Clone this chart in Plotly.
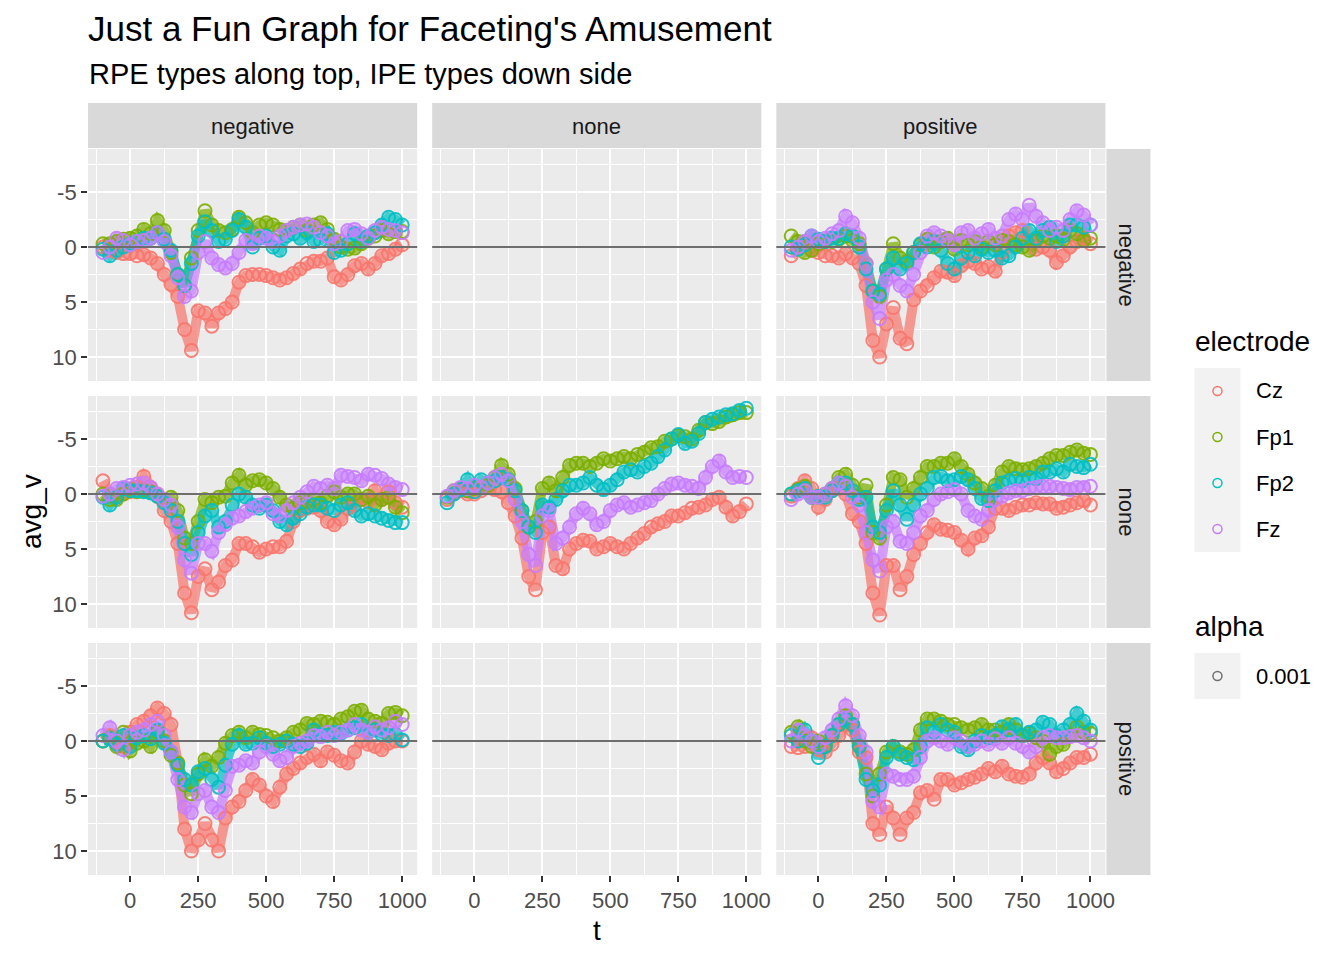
import plotly.graph_objects as go

# ---------------- data ----------------
t = [-100, -75, -50, -25, 0, 25, 50, 75, 100, 125, 150, 175, 200, 225, 250, 275,
     300, 325, 350, 375, 400, 425, 450, 475, 500, 525, 550, 575, 600, 625, 650,
     675, 700, 725, 750, 775, 800, 825, 850, 875, 900, 925, 950, 975, 1000]

rpe_levels = ["negative", "none", "positive"]   # columns
ipe_levels = ["negative", "none", "positive"]   # rows
electrodes = ["Cz", "Fp1", "Fp2", "Fz"]
electrode_colors = ["#F8766D", "#7CAE00", "#00BFC4", "#C77CFF"]
alpha_label = "0.001"
hline_value = 0
x_ticks = [0, 250, 500, 750, 1000]
y_ticks = [-5, 0, 5, 10]

# IPE negative / RPE negative
Cz_ineg_rneg = [0.0,0.3,0.5,0.6,0.6, 0.8,0.7,1.0,1.5,2.5, 3.4,4.5,7.5,9.4,5.8, 6.0,7.2,6.0,5.6,5.0, 3.2,2.6,2.5,2.5,2.6, 2.8,3.0,2.8,2.4,2.0, 1.5,1.3,1.3,1.0,2.7, 3.0,2.5,1.7,1.5,2.0, 1.5,0.8,0.6,0.2,-0.2]
Fp1_ineg_rneg = [-0.3,-0.3,-0.5,-0.7,-0.8, -1.0,-1.6,-1.2,-2.4,-1.5, 0.5,2.5,3.5,1.0,-1.5, -3.3,-2.0,-1.5,-1.3,-1.6, -2.7,-2.2,-1.3,-2.0,-2.2, -2.0,-1.6,-1.5,-1.8,-2.0, -1.5,-2.0,-2.2,-1.6,-0.7, 0.0,0.2,0.1,-0.3,-0.8, -1.0,-1.5,-1.2,-1.4,-1.4]
Fp2_ineg_rneg = [0.2,0.8,0.3,0.0,-0.3, -0.5,-0.8,-0.8,-1.3,-0.7, 0.3,2.5,3.5,1.5,-1.0, -2.3,-1.5,-0.5,-0.7,-1.5, -2.5,-1.8,0.0,-0.8,-1.0, 0.0,0.3,-1.0,-1.2,-0.8, -1.3,-0.5,-0.6,-1.2,0.5, 0.3,-0.3,-1.2,-0.5,-1.0, -1.3,-2.0,-2.7,-2.5,-2.0]
Fz_ineg_rneg = [0.5,0.0,-0.8,-0.6,-0.2, -0.5,-0.6,-0.8,-1.3,-0.5, 0.8,2.8,4.5,4.0,0.5, -0.5,1.0,1.6,1.9,1.5, 0.5,-0.6,-0.3,-1.0,-0.8, -0.5,-1.0,-1.5,-1.8,-2.0, -2.1,-1.8,-1.3,-1.0,-0.3, -0.5,-1.5,-1.6,-1.2,-0.8, -1.5,-1.8,-1.6,-1.5,-1.3]

# IPE negative / RPE positive
Cz_ineg_rpos = [0.8,0.0,-0.5,0.3,0.5, 0.8,0.8,1.0,0.6,1.0, 1.5,3.5,8.5,10.0,7.0, 5.5,8.3,8.8,4.8,4.0, 3.5,2.8,2.2,2.3,2.6, 1.7,1.3,1.5,2.0,1.8, 2.2,0.5,-1.0,-1.3,-1.5, -0.5,0.2,0.0,0.3,1.4, 0.8,0.0,-0.5,-0.8,-0.3]
Fp1_ineg_rpos = [-1.0,-0.5,0.5,0.3,-0.3, -0.5,-0.5,-0.7,-1.0,-0.6, -0.3,1.5,4.0,4.5,2.0, -0.3,1.0,1.3,0.5,-0.2, -0.7,0.0,-0.5,-0.8,0.2, -0.6,-0.2,-0.5,0.0,-0.5, -0.2,-0.6,-0.5,-0.2,0.0, 0.3,-0.6,-1.0,-0.8,-1.0, -0.7,-1.5,-1.2,-0.6,-0.8]
Fp2_ineg_rpos = [0.0,0.2,-0.2,-1.0,-0.7, -0.5,-0.8,-0.8,-1.2,-1.0, 0.0,2.0,4.0,4.3,2.0, 1.0,2.0,1.5,0.5,-0.3, 0.0,-0.5,0.3,1.5,2.0, 1.0,0.5,0.8,0.2,0.5, 0.3,1.0,0.8,0.0,-0.8, -1.5,-0.8,-1.5,-1.8,-0.5, -1.0,-2.0,-2.0,-1.8,-2.0]
Fz_ineg_rpos = [0.3,0.0,-0.5,-1.0,-0.5, -0.8,-1.2,-1.5,-2.8,-2.2, -0.8,1.5,5.0,6.5,3.0, 2.5,3.5,4.0,2.5,0.5, -1.0,-1.3,-1.0,-0.6,-0.2, -1.3,-1.5,-0.8,-1.2,-1.6, -0.8,-1.0,-2.5,-3.0,-2.5, -3.8,-2.8,-2.2,-1.5,-1.8, -1.5,-2.5,-3.3,-2.9,-2.0]

# IPE none / RPE negative
Cz_inone_rneg = [-1.2,0.0,0.3,0.0,-0.2, -0.6,-1.6,-0.6,0.0,1.5, 2.5,4.5,9.0,10.8,7.5, 6.8,8.7,8.0,6.5,6.0, 4.5,4.5,4.8,5.3,5.0, 4.8,4.8,4.3,2.5,1.5, 1.3,1.2,1.5,2.5,2.8, 2.3,1.3,1.0,0.5,0.7, -0.3,0.5,-0.2,0.8,1.2]
Fp1_inone_rneg = [0.0,0.5,0.5,0.0,-0.4, -0.2,-0.3,-0.2,0.2,0.5, 0.3,1.5,4.0,4.5,2.5, 0.5,0.8,0.3,0.2,-1.0, -1.7,-0.8,-1.2,-1.3,-1.0, -0.5,0.3,1.0,1.3,0.8, 0.7,0.5,0.8,0.2,-0.2, 0.3,0.0,0.0,0.5,0.2, 1.0,0.5,0.3,1.2,1.7]
Fp2_inone_rneg = [0.3,1.0,0.3,-0.5,-0.3, -0.3,-0.2,-0.1,0.2,0.8, 1.5,2.5,4.5,5.5,3.5, 2.0,1.5,3.0,2.5,1.0, 0.0,0.3,1.0,1.3,1.0, 1.5,2.5,2.8,2.2,1.8, 1.2,1.0,1.0,1.3,1.5, 1.0,0.8,1.5,2.0,1.8, 2.0,2.2,2.4,2.6,2.6]
Fz_inone_rneg = [0.2,0.0,-0.5,-0.6,-0.8, -0.9,-1.0,-0.6,0.0,0.5, 1.0,3.0,6.0,7.2,4.5, 4.5,5.2,3.5,2.8,2.2, 2.0,1.6,1.3,1.0,0.8, 1.8,2.0,1.5,0.8,0.3, -0.2,-0.7,-0.5,-0.8,-0.5, -1.7,-1.6,-1.5,-1.2,-1.8, -1.7,-1.4,-0.9,-0.6,-0.4]

# IPE none / RPE none
Cz_inone_rnone = [0.5,0.0,-0.3,0.0,0.0, -0.3,-0.6,-0.4,-0.2,0.8, 2.0,4.0,7.5,8.7,3.5, 3.0,6.5,6.8,5.0,4.5, 4.2,4.3,5.0,4.8,4.5, 4.8,5.0,4.5,4.0,3.6, 3.0,2.7,2.5,2.0,2.0, 1.7,1.3,1.2,1.0,0.5, 0.3,1.2,2.0,1.6,0.9]
Fp1_inone_rnone = [0.3,-0.3,-0.5,-0.3,-0.5, -0.6,-0.8,-1.5,-2.6,-1.8, -0.5,1.5,3.0,2.5,-0.5, -1.0,-0.3,-1.5,-2.6,-2.8, -2.8,-2.5,-2.8,-3.2,-3.0, -3.2,-3.4,-3.2,-3.6,-3.8, -4.2,-4.3,-4.8,-5.0,-5.3, -5.2,-5.0,-5.8,-6.5,-6.4, -6.6,-7.0,-7.2,-7.4,-7.4]
Fp2_inone_rnone = [0.8,0.0,-0.4,-1.3,-0.2, -1.3,-1.0,-1.2,-1.5,-1.3, -0.3,1.5,3.0,3.5,1.0, 1.2,0.5,-0.3,-0.8,-0.8, -1.0,-1.5,-0.8,-0.4,-0.8, -1.3,-2.0,-2.2,-2.0,-2.5, -2.8,-3.4,-4.0,-5.0,-5.4, -4.6,-4.8,-5.5,-6.5,-6.8, -7.0,-7.2,-7.3,-7.6,-7.8]
Fz_inone_rnone = [0.2,-0.3,-0.6,-0.5,-0.8, -0.6,-1.0,-1.5,-1.8,-1.2, 0.5,2.5,5.5,6.5,2.0, 1.5,4.5,4.0,3.0,1.8, 1.3,1.8,2.8,2.5,1.5, 1.0,0.8,1.2,1.0,0.8, 0.6,0.0,-0.5,-0.9,-1.0, -0.8,-0.7,-0.5,-1.5,-2.5, -3.0,-2.0,-1.5,-1.6,-1.5]

# IPE none / RPE positive
Cz_inone_rpos = [0.2,-0.5,-1.2,-0.5,1.2, 0.5,-0.3,-0.5,0.0,1.8, 2.5,4.5,9.0,11.0,6.5, 6.5,8.7,7.5,5.5,4.5, 3.5,2.8,3.2,3.3,3.5, 4.2,5.0,4.0,3.8,3.0, 1.3,1.3,1.5,1.2,1.0, 1.0,0.8,0.9,0.9,1.3, 1.2,1.0,0.8,0.6,1.0]
Fp1_inone_rpos = [0.0,-0.4,-0.7,0.3,0.3, 0.0,-0.5,-1.5,-1.8,-0.8, 0.3,-0.8,3.5,4.0,1.0, -1.5,-1.3,0.3,-0.5,-1.5, -2.5,-2.5,-2.8,-2.8,-3.2, -2.5,-1.8,-1.0,-0.5,0.2, -0.8,-2.0,-2.5,-2.3,-2.2, -2.3,-2.5,-2.8,-3.2,-3.5, -3.5,-3.8,-4.0,-3.7,-3.6]
Fp2_inone_rpos = [0.0,-0.3,-0.5,0.3,0.2, 0.3,-0.3,-1.0,-1.0,-0.3, 0.5,0.3,3.0,3.5,1.5, -0.3,1.0,2.3,1.0,0.0, -0.5,-1.5,-1.6,-1.2,-1.3, -1.6,-1.3,-0.5,0.4,0.6, -0.3,-1.0,-1.2,-1.4,-1.2, -1.5,-1.4,-2.0,-2.0,-2.3, -2.0,-2.7,-2.5,-2.4,-2.7]
Fz_inone_rpos = [0.5,0.0,-0.3,0.3,0.3, 0.0,-0.5,-1.0,-0.7,0.3, 1.0,3.5,6.0,7.0,3.0, 2.5,4.3,4.5,3.5,2.0, 1.5,0.5,0.0,-0.2,-0.4, 0.0,1.5,2.0,2.3,1.5, 0.5,0.2,-0.1,-0.3,-0.3, -0.5,-0.6,-0.7,-0.7,-0.6, -0.5,-0.4,-0.6,-0.6,-0.7]

# IPE positive / RPE negative
Cz_ipos_rneg = [0.0,-0.5,0.2,0.5,-0.8, -1.5,-1.8,-2.3,-3.0,-2.5, -1.5,2.0,8.0,10.0,9.0, 7.5,9.0,10.0,7.0,6.0, 5.5,4.5,3.5,4.0,5.0, 5.5,4.2,3.0,2.5,2.0, 1.5,1.2,1.8,1.0,1.3, 1.8,2.0,1.0,0.0,0.3, 0.5,0.8,0.2,0.0,0.0]
Fp1_ipos_rneg = [0.0,-0.3,0.5,-0.8,0.9, 0.2,0.0,0.5,-0.8,0.0, 1.3,2.0,4.0,4.8,3.0, 1.7,2.3,1.5,0.2,-0.5, -0.8,-0.3,-0.8,-0.6,-0.5, -0.3,0.0,-0.3,-0.8,-1.0, -1.6,-1.5,-1.8,-1.7,-1.5, -2.0,-2.2,-2.7,-2.8,-2.0, -1.8,-1.6,-2.5,-2.6,-2.3]
Fp2_ipos_rneg = [0.0,-0.2,0.3,-0.5,0.5, -0.3,-0.5,-0.2,-1.0,0.2, 1.0,2.2,3.5,4.0,2.8, 2.5,3.5,4.2,2.2,0.3, -0.5,0.3,0.2,-0.3,0.2, 0.5,0.3,0.0,0.3,0.5, 0.2,-1.0,-0.6,-0.5,-0.8, -0.7,-1.0,-1.2,-1.5,-0.8, -1.0,-0.6,-0.5,-0.6,-0.1]
Fz_ipos_rneg = [-0.5,-1.2,0.0,0.8,-0.5, -0.8,-1.0,-1.5,-1.8,-0.5, 1.0,3.5,6.0,6.5,4.8, 4.5,6.0,6.5,4.5,2.3, 2.2,1.8,2.0,1.0,0.5, 1.2,1.8,1.5,0.5,0.2, 0.0,-0.5,-0.4,-0.8,-0.5, -0.8,-1.0,-1.5,-1.0,-0.8, -1.3,-1.0,-1.2,-1.8,-1.5]

# IPE positive / RPE positive
Cz_ipos_rpos = [0.5,0.6,0.5,-0.3,0.8, 1.0,0.3,-0.5,-1.5,-1.0, 1.0,1.5,7.5,8.5,6.0, 7.0,8.5,7.0,6.5,4.7, 4.5,5.3,3.5,3.5,4.0, 3.8,3.5,3.3,3.0,2.5, 2.8,2.3,3.0,3.2,3.3, 3.0,2.0,1.5,2.0,2.8, 2.5,2.0,1.5,1.5,1.2]
Fp1_ipos_rpos = [-0.8,-1.3,0.0,0.5,0.0, 0.5,-0.5,-1.5,-2.3,-1.5, 0.5,3.0,5.0,3.0,1.0, 0.5,1.0,1.2,0.8,-1.0, -2.0,-2.0,-1.8,-1.5,-1.5, -1.2,-1.0,-1.2,-1.5,-1.0, -1.0,-0.8,-1.5,-1.0,-0.5, -0.7,-0.3,0.0,1.2,0.5, 0.3,-0.5,-1.3,-0.8,-0.7]
Fp2_ipos_rpos = [-0.5,0.0,-1.0,0.0,1.5, 0.5,-0.5,-1.5,-2.0,-1.5, 0.5,3.5,4.5,4.0,1.5, 0.5,1.2,1.5,1.7,0.5, -1.2,-0.8,-1.5,-1.0,-0.8, 0.5,0.8,0.0,-0.5,-0.3, -0.5,-1.3,-1.0,-1.5,-0.5, -0.8,-1.0,-1.7,-1.5,-0.5, -1.0,-1.5,-2.5,-1.8,-1.0]
Fz_ipos_rpos = [0.0,-1.0,-0.5,0.0,0.5, -0.3,-1.0,-2.0,-3.2,-2.3, -0.5,1.0,5.5,6.0,3.0, 3.2,3.5,3.5,3.2,1.5, 0.0,-0.3,0.0,0.3,-0.3, 0.0,0.5,0.3,0.0,0.3, -0.2,0.2,-0.3,0.2,0.5, 1.0,0.5,-0.3,-0.5,-0.3, -0.3,-0.4,-0.5,-0.3,0.0]

panels = {
    ("negative", "negative"): [Cz_ineg_rneg, Fp1_ineg_rneg, Fp2_ineg_rneg, Fz_ineg_rneg],
    ("negative", "positive"): [Cz_ineg_rpos, Fp1_ineg_rpos, Fp2_ineg_rpos, Fz_ineg_rpos],
    ("none", "negative"): [Cz_inone_rneg, Fp1_inone_rneg, Fp2_inone_rneg, Fz_inone_rneg],
    ("none", "none"): [Cz_inone_rnone, Fp1_inone_rnone, Fp2_inone_rnone, Fz_inone_rnone],
    ("none", "positive"): [Cz_inone_rpos, Fp1_inone_rpos, Fp2_inone_rpos, Fz_inone_rpos],
    ("positive", "negative"): [Cz_ipos_rneg, Fp1_ipos_rneg, Fp2_ipos_rneg, Fz_ipos_rneg],
    ("positive", "positive"): [Cz_ipos_rpos, Fp1_ipos_rpos, Fp2_ipos_rpos, Fz_ipos_rpos],
}

# ---------------- layout geometry (pixels) ----------------
W, H = 1344, 960
XS = 1334.5          # effective horizontal pixel width of the rendered paper
FONT = "Liberation Sans"
col_px = [(88, 417), (432, 761), (776, 1105)]
row_px = [(149, 381), (396, 628), (643, 875)]
top_strip = (103, 148)
right_strip = (1106, 1150)


def px(x):
    return x / XS


def py(y):
    return 1 - y / H


def hex_rgba(h, a):
    h = h.lstrip("#")
    return "rgba(%d,%d,%d,%s)" % (int(h[0:2], 16), int(h[2:4], 16), int(h[4:6], 16), a)


fig = go.Figure()
layout = dict(
    width=W, height=H, autosize=False, margin=dict(l=0, r=0, t=0, b=0),
    paper_bgcolor="white", plot_bgcolor="#EBEBEB",
    font=dict(family=FONT, color="#000000"),
    showlegend=False,
)
shapes = []
annotations = []

for r, ipe in enumerate(ipe_levels):
    for c, rpe in enumerate(rpe_levels):
        idx = r * 3 + c + 1
        xa = "xaxis" if idx == 1 else "xaxis%d" % idx
        ya = "yaxis" if idx == 1 else "yaxis%d" % idx
        xr = "x" if idx == 1 else "x%d" % idx
        yr = "y" if idx == 1 else "y%d" % idx
        bottom = (r == 2)
        left = (c == 0)
        layout[xa] = dict(
            domain=[px(col_px[c][0]), px(col_px[c][1])], anchor=yr,
            range=[-155, 1055], tickvals=x_ticks, ticktext=[str(v) for v in x_ticks],
            showticklabels=bottom, ticks="outside" if bottom else "", ticklen=6, tickwidth=1.5,
            tickcolor="#333333", showgrid=True, gridcolor="white", gridwidth=2,
            minor=dict(tick0=-125, dtick=250, showgrid=True, gridcolor="white", gridwidth=1, ticks=""),
            zeroline=False, showline=False,
            tickfont=dict(family=FONT, size=22, color="#4D4D4D"),
        )
        layout[ya] = dict(
            domain=[py(row_px[r][1]), py(row_px[r][0])], anchor=xr,
            range=[12.18, -8.91], tickvals=y_ticks, ticktext=[str(v) for v in y_ticks],
            showticklabels=left, ticks="outside" if left else "", ticklen=6, tickwidth=1.5,
            tickcolor="#333333", showgrid=True, gridcolor="white", gridwidth=2,
            minor=dict(tick0=-7.5, dtick=5, showgrid=True, gridcolor="white", gridwidth=1, ticks=""),
            zeroline=False, showline=False,
            tickfont=dict(family=FONT, size=22, color="#4D4D4D"),
        )
        series = panels.get((ipe, rpe))
        if series is not None:
            # dense band underlay (the reference points overlap into a band)
            for name, col, vals in zip(electrodes, electrode_colors, series):
                fig.add_trace(go.Scatter(
                    x=t, y=vals, mode="lines", name=name, xaxis=xr, yaxis=yr,
                    line=dict(color=hex_rgba(col, 0.72), width=10),
                    showlegend=False, hoverinfo="skip",
                ))
            for name, col, vals in zip(electrodes, electrode_colors, series):
                fig.add_trace(go.Scatter(
                    x=t, y=vals, mode="markers", name=name, xaxis=xr, yaxis=yr,
                    marker=dict(symbol="circle-open", size=13, color=hex_rgba(col, 0.9),
                                line=dict(width=2)),
                    showlegend=False, hoverinfo="skip",
                ))
        shapes.append(dict(type="line", xref=xr + " domain", yref=yr, x0=0, x1=1,
                           y0=hline_value, y1=hline_value, layer="above",
                           line=dict(color="#6E6E6E", width=2)))

# strips
for c, rpe in enumerate(rpe_levels):
    shapes.append(dict(type="rect", xref="paper", yref="paper", layer="below",
                       x0=px(col_px[c][0]), x1=px(col_px[c][1]),
                       y0=py(top_strip[1]), y1=py(top_strip[0]),
                       fillcolor="#D9D9D9", line=dict(width=0)))
    annotations.append(dict(text=rpe, xref="paper", yref="paper", showarrow=False,
                            x=px((col_px[c][0] + col_px[c][1]) / 2), y=py((top_strip[0] + top_strip[1]) / 2 + 1),
                            xanchor="center", yanchor="middle",
                            font=dict(family=FONT, size=22, color="#1A1A1A")))
for r, ipe in enumerate(ipe_levels):
    shapes.append(dict(type="rect", xref="paper", yref="paper", layer="below",
                       x0=px(right_strip[0]), x1=px(right_strip[1]),
                       y0=py(row_px[r][1]), y1=py(row_px[r][0]),
                       fillcolor="#D9D9D9", line=dict(width=0)))
    annotations.append(dict(text=ipe, xref="paper", yref="paper", showarrow=False,
                            x=px((right_strip[0] + right_strip[1]) / 2 - 1), y=py((row_px[r][0] + row_px[r][1]) / 2),
                            xanchor="center", yanchor="middle", textangle=90,
                            font=dict(family=FONT, size=22, color="#1A1A1A")))

# titles
annotations.append(dict(text="Just a Fun Graph for Faceting's Amusement", xref="paper", yref="paper",
                        x=px(86), y=py(29), xanchor="left", yanchor="middle", showarrow=False,
                        font=dict(family=FONT, size=35, color="#000000")))
annotations.append(dict(text="RPE types along top, IPE types down side", xref="paper", yref="paper",
                        x=px(87), y=py(74), xanchor="left", yanchor="middle", showarrow=False,
                        font=dict(family=FONT, size=29, color="#000000")))
annotations.append(dict(text="t", xref="paper", yref="paper",
                        x=px(597), y=py(930), xanchor="center", yanchor="middle", showarrow=False,
                        font=dict(family=FONT, size=28, color="#000000")))
annotations.append(dict(text="avg_v", xref="paper", yref="paper", textangle=-90,
                        x=px(31), y=py(512), xanchor="center", yanchor="middle", showarrow=False,
                        font=dict(family=FONT, size=28, color="#000000")))

# legend (drawn manually)
leg_x0, leg_x1 = 1194, 1240
annotations.append(dict(text="electrode", xref="paper", yref="paper",
                        x=px(1193), y=py(342), xanchor="left", yanchor="middle", showarrow=False,
                        font=dict(family=FONT, size=28, color="#000000")))
key_top = 368
key_h = 46
shapes.append(dict(type="rect", xref="paper", yref="paper", layer="below",
                   x0=px(leg_x0), x1=px(leg_x1), y0=py(key_top + key_h * len(electrodes)), y1=py(key_top),
                   fillcolor="#F2F2F2", line=dict(width=0)))
for i, (name, col) in enumerate(zip(electrodes, electrode_colors)):
    cy = key_top + i * key_h + key_h / 2
    shapes.append(dict(type="circle", xref="paper", yref="paper",
                       x0=px(1217 - 4.5), x1=px(1217 + 4.5), y0=py(cy + 4.5), y1=py(cy - 4.5),
                       line=dict(color=col, width=1.5)))
    annotations.append(dict(text=name, xref="paper", yref="paper",
                            x=px(1254), y=py(cy), xanchor="left", yanchor="middle", showarrow=False,
                            font=dict(family=FONT, size=22, color="#000000")))

annotations.append(dict(text="alpha", xref="paper", yref="paper",
                        x=px(1193), y=py(626), xanchor="left", yanchor="middle", showarrow=False,
                        font=dict(family=FONT, size=28, color="#000000")))
a_top = 653
shapes.append(dict(type="rect", xref="paper", yref="paper", layer="below",
                   x0=px(leg_x0), x1=px(leg_x1), y0=py(a_top + key_h), y1=py(a_top),
                   fillcolor="#F2F2F2", line=dict(width=0)))
acy = a_top + key_h / 2
shapes.append(dict(type="circle", xref="paper", yref="paper",
                   x0=px(1217 - 4.5), x1=px(1217 + 4.5), y0=py(acy + 4.5), y1=py(acy - 4.5),
                   line=dict(color="#6E6E6E", width=1.5)))
annotations.append(dict(text=alpha_label, xref="paper", yref="paper",
                        x=px(1254), y=py(acy), xanchor="left", yanchor="middle", showarrow=False,
                        font=dict(family=FONT, size=22, color="#000000")))

layout["shapes"] = shapes
layout["annotations"] = annotations
fig.update_layout(**layout)

fig.write_html(
    "out.html",
    config={"displayModeBar": False, "responsive": False},
    post_script="document.body.style.margin='0';document.body.style.overflow='hidden';",
)
